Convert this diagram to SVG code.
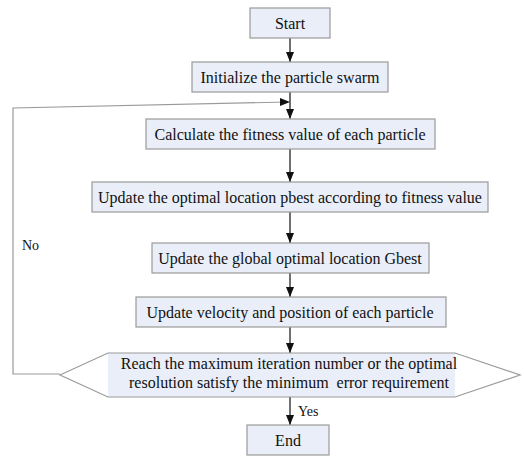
<svg xmlns="http://www.w3.org/2000/svg" width="524" height="456" viewBox="0 0 524 456">
<style>
.box{fill:#e9eef8;stroke:#9a9a9a;stroke-width:1.2}
.t{font-family:'Liberation Serif','Times New Roman',serif;font-size:16px;fill:#111;text-anchor:middle}
.lbl{font-family:'Liberation Serif','Times New Roman',serif;font-size:14px;fill:#111}
.c{stroke:#222;stroke-width:1.3;fill:none}
.fb{stroke:#9a9a9a;stroke-width:1.2;fill:none}
</style>
<defs>
<marker id="ah" viewBox="0 0 10 10" refX="10" refY="5" markerWidth="10" markerHeight="10" markerUnits="userSpaceOnUse" orient="auto">
<path d="M0,1 L10,5 L0,9 Z" fill="#111"/>
</marker>
</defs>
<rect width="524" height="456" fill="#fff"/>
<g id="connectors">
<line class="c" x1="290" y1="38" x2="290" y2="62" marker-end="url(#ah)"/>
<line class="c" x1="290" y1="92" x2="290" y2="119" marker-end="url(#ah)"/>
<line class="c" x1="290" y1="149" x2="290" y2="182" marker-end="url(#ah)"/>
<line class="c" x1="290" y1="212" x2="290" y2="243" marker-end="url(#ah)"/>
<line class="c" x1="290" y1="273" x2="290" y2="297" marker-end="url(#ah)"/>
<line class="c" x1="290" y1="327" x2="290" y2="353" marker-end="url(#ah)"/>
<line class="c" x1="290" y1="397" x2="290" y2="425" marker-end="url(#ah)"/>
<polyline class="fb" points="60,374 13,374 13,108 288,102"/>
<path d="M280,98 L290,102 L280,106 Z" fill="#111"/>
<text class="lbl" x="22" y="250">No</text>
<text class="lbl" x="298" y="416">Yes</text>
</g>
<g id="start">
<rect class="box" x="250" y="8" width="80" height="30"/>
<text class="t" x="290" y="29">Start</text>
</g>
<g id="init">
<rect class="box" x="192" y="62" width="196" height="30"/>
<text class="t" x="290" y="83">Initialize the particle swarm</text>
</g>
<g id="fitness">
<rect class="box" x="146" y="119" width="289" height="30"/>
<text class="t" x="290" y="140">Calculate the fitness value of each particle</text>
</g>
<g id="pbest">
<rect class="box" x="92" y="182" width="396" height="30"/>
<text class="t" x="290" y="203">Update the optimal location pbest according to fitness value</text>
</g>
<g id="gbest">
<rect class="box" x="152" y="243" width="277" height="30"/>
<text class="t" x="290" y="264">Update the global optimal location Gbest</text>
</g>
<g id="velocity">
<rect class="box" x="136" y="297" width="310" height="30"/>
<text class="t" x="290" y="318">Update velocity and position of each particle</text>
</g>
<g id="decision">
<rect x="108" y="353" width="347" height="44" fill="#e9eef8"/>
<polygon points="60,375 108,353 455,353 520,375 455,397 108,397" fill="none" stroke="#9a9a9a" stroke-width="1.2"/>
<text class="t" x="289" y="369">Reach the maximum iteration number or the optimal</text>
<text class="t" x="289" y="388" xml:space="preserve">resolution satisfy the minimum  error requirement</text>
</g>
<g id="end">
<rect class="box" x="247" y="425" width="82" height="30"/>
<text class="t" x="288" y="446">End</text>
</g>
</svg>
